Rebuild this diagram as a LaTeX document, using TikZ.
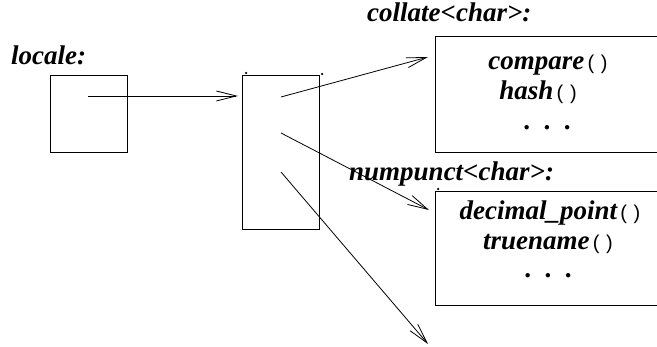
\documentclass[tikz,border=0pt]{standalone}
\usepackage{fontspec}
\setmainfont{Liberation Serif}
\newfontfamily\parenfont{Liberation Sans}
\usetikzlibrary{arrows.meta}
\tikzset{
  box/.style={draw, line width=1pt, inner sep=0pt, minimum width=#1},
  lbl/.style={font=\fontsize{27}{30}\selectfont\bfseries\itshape, inner sep=0pt, anchor=base west},
  txt/.style={font=\fontsize{27}{30}\selectfont\bfseries\itshape, inner sep=0pt, anchor=base},
  arr/.style={line width=0.8pt, -{Straight Barb[length=20pt,width=10pt,line width=0.8pt]}},
  pt/.style={fill, circle, inner sep=0pt, minimum size=2.5pt}
}
\newcommand{\pp}{{\parenfont\fontsize{20}{22}\selectfont\mdseries\upshape\,(\,\,)}}
\begin{document}
\begin{tikzpicture}[x=1pt,y=1pt]
\useasboundingbox (0,0) rectangle (657,346);
% boxes
\node[box=77pt, minimum height=77pt] (loc) at (88.5,231.5) {};
\node[box=77pt, minimum height=154pt] (mid) at (280.5,193) {};
\node[box=227pt, minimum height=116pt] (col) at (548.5,251) {};
\node[box=227pt, minimum height=113pt] (num) at (548.5,97.5) {};
% labels
\node[lbl] (locl) at (11,281) {locale:};
\node[lbl] (coll) at (367,324) {collate<char>:};
\node[lbl] (numl) at (349,165) {numpunct<char>:};
% box contents
\node[txt] (cmp) at (548,276) {compare\pp};
\node[txt] (hsh) at (538,246) {hash\pp};
\node[txt] (cd) at (548,216) {.\hspace{0.5em}.\hspace{0.5em}.};
\node[txt] (dp) at (550,126) {decimal\_point\pp};
\node[txt] (tn) at (548,96) {truename\pp};
\node[txt] (nd) at (549,68) {.\hspace{0.5em}.\hspace{0.5em}.};
% small dots
\node[pt] (d1) at (246,273) {};
\node[pt] (d2) at (322,272) {};
\node[pt] (d3) at (438,157) {};
% connector points
\coordinate (s0) at (88,250);
\coordinate (e0) at (238,250);
\coordinate (s1) at (281,249);
\coordinate (e1) at (428,289);
\coordinate (s2) at (281,213);
\coordinate (e2) at (429,136);
\coordinate (s3) at (281,174);
\coordinate (e3) at (428,2);
\draw[arr] (s0) -- (e0);
\draw[arr] (s1) -- (e1);
\draw[arr] (s2) -- (e2);
\draw[arr] (s3) -- (e3);
\end{tikzpicture}
\end{document}
